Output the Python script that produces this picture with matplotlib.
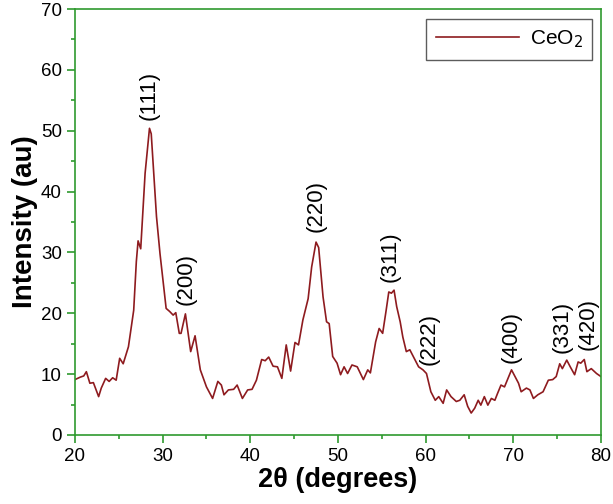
import matplotlib
matplotlib.use('Agg')
import matplotlib.pyplot as plt
from matplotlib.ticker import MultipleLocator

plt.rcParams['font.family'] = ['Liberation Sans', 'DejaVu Sans']

# XRD pattern
two_theta = [20.0, 20.6, 21.0, 21.3, 21.7, 22.1, 22.7, 23.0, 23.5, 23.9, 24.3, 24.7,
             25.1, 25.5, 26.1, 26.7, 27.0, 27.2, 27.5, 28.0, 28.5, 28.7, 29.3, 29.7,
             30.4, 30.8, 31.2, 31.5, 31.9, 32.1, 32.6, 33.2, 33.7, 34.3, 35.0, 35.7,
             36.3, 36.7, 37.0, 37.5, 38.1, 38.5, 39.1, 39.7, 40.2, 40.7, 41.3, 41.7,
             42.1, 42.6, 43.1, 43.6, 44.1, 44.6, 45.1, 45.5, 46.0, 46.6, 47.0, 47.5,
             47.8, 48.3, 48.7, 49.0, 49.4, 49.9, 50.3, 50.7, 51.1, 51.6, 52.2, 52.9,
             53.4, 53.7, 54.3, 54.7, 55.1, 55.5, 55.8, 56.1, 56.4, 56.7, 57.1, 57.4,
             57.8, 58.2, 58.7, 59.2, 59.7, 60.1, 60.6, 61.1, 61.5, 62.0, 62.4, 62.9,
             63.5, 63.9, 64.4, 64.8, 65.2, 65.6, 66.0, 66.3, 66.7, 67.1, 67.5, 67.9,
             68.2, 68.6, 69.0, 69.4, 69.8, 70.2, 70.6, 70.9, 71.5, 71.9, 72.3, 72.8,
             73.4, 74.0, 74.5, 74.9, 75.3, 75.6, 76.1, 76.5, 77.0, 77.4, 77.7, 78.1,
             78.4, 78.9, 79.5, 80.0]
intensity = [9.1, 9.5, 9.7, 10.4, 8.5, 8.6, 6.3, 7.7, 9.3, 8.8, 9.4, 9.0,
             12.6, 11.7, 14.5, 20.5, 28.5, 31.9, 30.6, 43.0, 50.4, 49.5, 35.9, 29.8,
             20.8, 20.3, 19.7, 20.1, 16.7, 16.7, 19.9, 13.7, 16.3, 10.7, 7.9, 6.0,
             8.8, 8.2, 6.6, 7.4, 7.5, 8.2, 6.0, 7.4, 7.5, 9.0, 12.4, 12.2,
             12.8, 11.3, 11.2, 9.3, 14.8, 10.5, 15.2, 14.8, 18.9, 22.4, 27.6, 31.7,
             30.8, 22.7, 18.6, 18.3, 12.9, 11.8, 9.9, 11.2, 10.1, 11.5, 11.2, 9.1,
             10.7, 10.2, 15.3, 17.5, 16.7, 20.5, 23.5, 23.3, 23.8, 21.1, 18.6, 16.1,
             13.7, 14.0, 12.6, 11.2, 10.7, 10.1, 7.1, 5.7, 6.3, 5.2, 7.4, 6.3,
             5.5, 5.7, 6.6, 4.7, 3.6, 4.4, 5.7, 4.9, 6.3, 4.9, 6.0, 5.7,
             6.8, 8.2, 7.9, 9.3, 10.7, 9.6, 8.5, 7.1, 7.7, 7.4, 6.0, 6.6,
             7.1, 9.0, 9.1, 9.6, 11.7, 10.9, 12.3, 11.2, 9.9, 12.0, 11.8, 12.4,
             10.4, 10.9, 10.1, 9.6]

# peak labels (Miller indices) and where they sit
peak_labels = ['(111)', '(200)', '(220)', '(311)', '(222)', '(400)', '(331)', '(420)']
peak_x = [28.5, 32.7, 47.5, 56.0, 60.4, 69.8, 75.6, 78.5]
peak_y = [51.7, 21.3, 33.4, 25.2, 11.5, 11.8, 13.4, 14.0]

green = '#2f9a2f'

fig = plt.figure(figsize=(6.13, 5.04), dpi=100)
ax = fig.add_axes([0.1223, 0.137, 0.858, 0.845])

ax.plot(two_theta, intensity, color='#8e1b1f', linewidth=1.2, label='CeO$_2$')

for lab, x, y in zip(peak_labels, peak_x, peak_y):
    ax.text(x, y, lab, rotation=90, ha='center', va='bottom', fontsize=16)

ax.set_xlim(20, 80)
ax.set_ylim(0, 70)
ax.xaxis.set_major_locator(MultipleLocator(10))
ax.xaxis.set_minor_locator(MultipleLocator(5))
ax.yaxis.set_major_locator(MultipleLocator(10))
ax.yaxis.set_minor_locator(MultipleLocator(5))

for sp in ax.spines.values():
    sp.set_color(green)
    sp.set_linewidth(1.2)
ax.tick_params(which='both', direction='out', color=green, labelsize=13.5, width=1.2)
ax.tick_params(which='major', length=6)
ax.tick_params(which='minor', length=3)

ax.set_xlabel('2θ (degrees)', fontsize=19.5, fontweight='bold', labelpad=1)
ax.set_ylabel('Intensity (au)', fontsize=20, fontweight='bold', labelpad=2)

leg = ax.legend(loc='upper right', fontsize=15, frameon=True, fancybox=False,
                handlelength=4.0, handletextpad=0.5, borderpad=0.45, borderaxespad=0,
                bbox_to_anchor=(0.983, 0.976))
leg.get_frame().set_edgecolor('#333333')
leg.get_frame().set_linewidth(1.0)

fig.savefig('out.png', dpi=100)
